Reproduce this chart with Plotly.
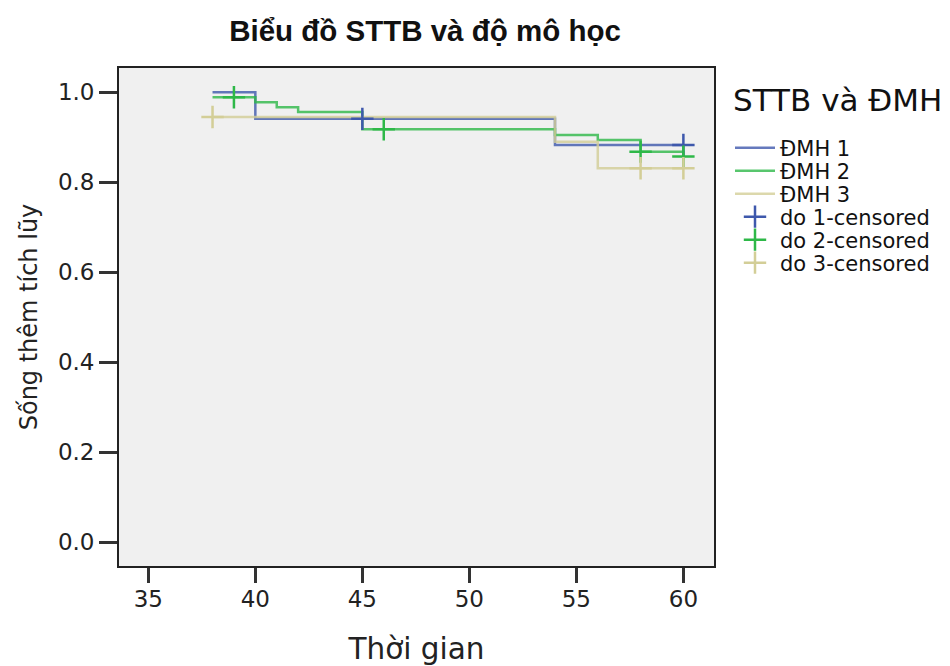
import plotly.graph_objects as go

# ---- data ----
t1 = [38, 40, 54, 60]
s1 = [1.0, 0.941, 0.883, 0.883]
c1_t = [45, 60]
c1_s = [0.941, 0.883]

t2 = [38, 40, 41, 42, 45, 54, 56, 58, 60]
s2 = [0.989, 0.978, 0.967, 0.956, 0.918, 0.905, 0.894, 0.868, 0.857]
c2_t = [39, 46, 58, 60]
c2_s = [0.989, 0.918, 0.868, 0.857]

t3 = [38, 54, 56, 60]
s3 = [0.945, 0.890, 0.831, 0.831]
c3_t = [38, 58, 60]
c3_s = [0.945, 0.831, 0.831]

names = ["ĐMH 1", "ĐMH 2", "ĐMH 3"]
cnames = ["do 1-censored", "do 2-censored", "do 3-censored"]
colors = ["#3E58AC", "#2EB848", "#D3CE97"]
x_ticks = [35, 40, 45, 50, 55, 60]
y_ticks = [0.0, 0.2, 0.4, 0.6, 0.8, 1.0]
legend_title = "STTB và ĐMH"

# figure is offset by the page's 8px body margin
W, H = 942, 658
ML, MR, MT, MB = 111, 236, 60, 100
PW = W - ML - MR
PH = H - MT - MB

def py(fig_y):
    return (H - MB - fig_y) / PH

def px(fig_x):
    return (fig_x - ML) / PW

FONT = "DejaVu Sans"
TFONT = "Liberation Sans"
legend_ids = ["legend", "legend2", "legend3", "legend4", "legend5", "legend6"]
entry_y = [140, 163, 186, 209, 232, 255]

fig = go.Figure()
series = [(t1, s1), (t2, s2), (t3, s3)]
cens = [(c1_t, c1_s), (c2_t, c2_s), (c3_t, c3_s)]
for i, (t, s) in enumerate(series):
    fig.add_trace(go.Scatter(x=t, y=s, mode="lines", name=names[i], legend=legend_ids[i],
                             line=dict(color=colors[i], width=2.5, shape="hv"), opacity=0.8))
for i, (t, s) in enumerate(cens):
    fig.add_trace(go.Scatter(x=t, y=s, mode="markers", name=cnames[i], legend=legend_ids[3 + i],
                             marker=dict(symbol="cross-thin", size=16, color=colors[i],
                                         line=dict(color=colors[i], width=2.5))))

axis_common = dict(showgrid=False, zeroline=False, showline=True, linecolor="#222", linewidth=1.8,
                   mirror=True, ticks="outside", tickwidth=2.5, tickcolor="#333", automargin=False)

legend_base = dict(xanchor="left", x=px(722), bgcolor="rgba(0,0,0,0)",
                   font=dict(family=FONT, size=21, color="#111"), itemwidth=40)

layout_legends = {}
for lid, fy in zip(legend_ids, entry_y):
    layout_legends[lid] = dict(legend_base, y=py(fy), yanchor="middle")

fig.update_layout(
    width=W, height=H,
    paper_bgcolor="white", plot_bgcolor="#F0F0F0",
    margin=dict(l=ML, r=MR, t=MT, b=MB),
    title=dict(text="<b>Biểu đồ STTB và độ mô học</b>", x=417 / W, xanchor="center",
               y=1 - 23 / H, yanchor="middle",
               font=dict(family=TFONT, size=29.5, color="#111")),
    xaxis=dict(range=[33.63, 61.43], tickvals=x_ticks, ticklen=15, ticklabelstandoff=-4, **axis_common,
               tickfont=dict(family=FONT, size=23, color="#222"),
               title=dict(text="Thời gian", font=dict(family=FONT, size=29.5, color="#222"), standoff=28)),
    yaxis=dict(range=[-0.053, 1.054], tickvals=y_ticks, tickformat=".1f", ticklen=18, **axis_common,
               tickfont=dict(family=FONT, size=23, color="#222"),
               title=dict(text="Sống thêm tích lũy", font=dict(family=FONT, size=24, color="#222"), standoff=14)),
    showlegend=True,
    annotations=[dict(text=legend_title, xref="paper", yref="paper", x=px(723), y=py(92),
                      xanchor="left", yanchor="middle", showarrow=False,
                      font=dict(family=FONT, size=31, color="#111"))],
    **layout_legends,
)

fig.write_html("out.html")
